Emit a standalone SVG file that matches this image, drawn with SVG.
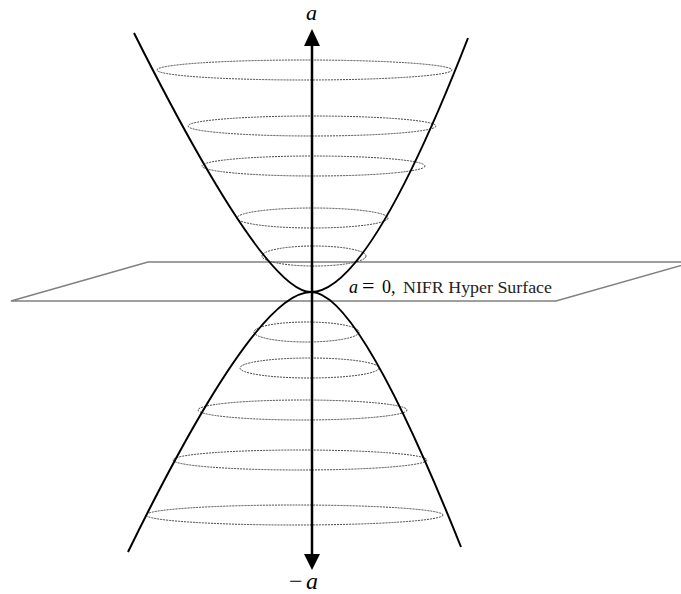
<svg xmlns="http://www.w3.org/2000/svg" width="681" height="594" viewBox="0 0 681 594">
<style>
.ring{fill:none;stroke:#444;stroke-width:1;stroke-dasharray:2 1}
.curve{fill:none;stroke:#000;stroke-width:2}
.plane{fill:none;stroke:#808080;stroke-width:1.5}
.math{font-family:"Liberation Serif",serif;fill:#000}
</style>
<rect width="681" height="594" fill="#fff"/>
<g id="plane">
<polygon class="plane" points="148,262 693,262 556,301 11,301"/>
</g>
<g id="upper-rings">
<ellipse class="ring" cx="304.5" cy="70" rx="147.5" ry="10"/>
<ellipse class="ring" cx="312" cy="126" rx="124" ry="10"/>
<ellipse class="ring" cx="313.5" cy="166" rx="111.5" ry="10"/>
<ellipse class="ring" cx="312.5" cy="218" rx="75.5" ry="10"/>
<ellipse class="ring" cx="314" cy="256" rx="52" ry="10"/>
</g>
<g id="lower-rings">
<ellipse class="ring" cx="306.5" cy="332" rx="52.5" ry="10"/>
<ellipse class="ring" cx="309.5" cy="368" rx="69.5" ry="10"/>
<ellipse class="ring" cx="302.5" cy="410" rx="104.5" ry="10"/>
<ellipse class="ring" cx="300" cy="460" rx="127" ry="10"/>
<ellipse class="ring" cx="294.5" cy="515" rx="148.5" ry="10"/>
</g>
<g id="upper-cone">
<path class="curve" d="M134,33 Q264,292 311,292 Q369,292 468,38"/>
</g>
<g id="lower-cone">
<path class="curve" d="M128,552 Q255,292 311,292 Q359,292 461,547"/>
</g>
<g id="axis">
<line x1="312" y1="44" x2="312" y2="556" stroke="#000" stroke-width="2.5"/>
<polygon points="312,29 320,46 304,46" fill="#000"/>
<polygon points="312,570 320,554 304,554" fill="#000"/>
</g>
<g id="labels">
<text class="math" x="311.5" y="20" font-size="22" font-style="italic" text-anchor="middle">a</text>
<text class="math" y="589" font-size="24"><tspan x="289">−</tspan><tspan x="306" font-style="italic">a</tspan></text>
<text class="math" y="293" font-size="18"><tspan x="349" font-style="italic">a</tspan><tspan x="362" font-size="22">=</tspan><tspan x="382">0,</tspan></text>
<text x="403" y="293" font-family="Liberation Serif,serif" font-size="16" textLength="149" lengthAdjust="spacingAndGlyphs" fill="#222">NIFR Hyper Surface</text>
</g>
</svg>
